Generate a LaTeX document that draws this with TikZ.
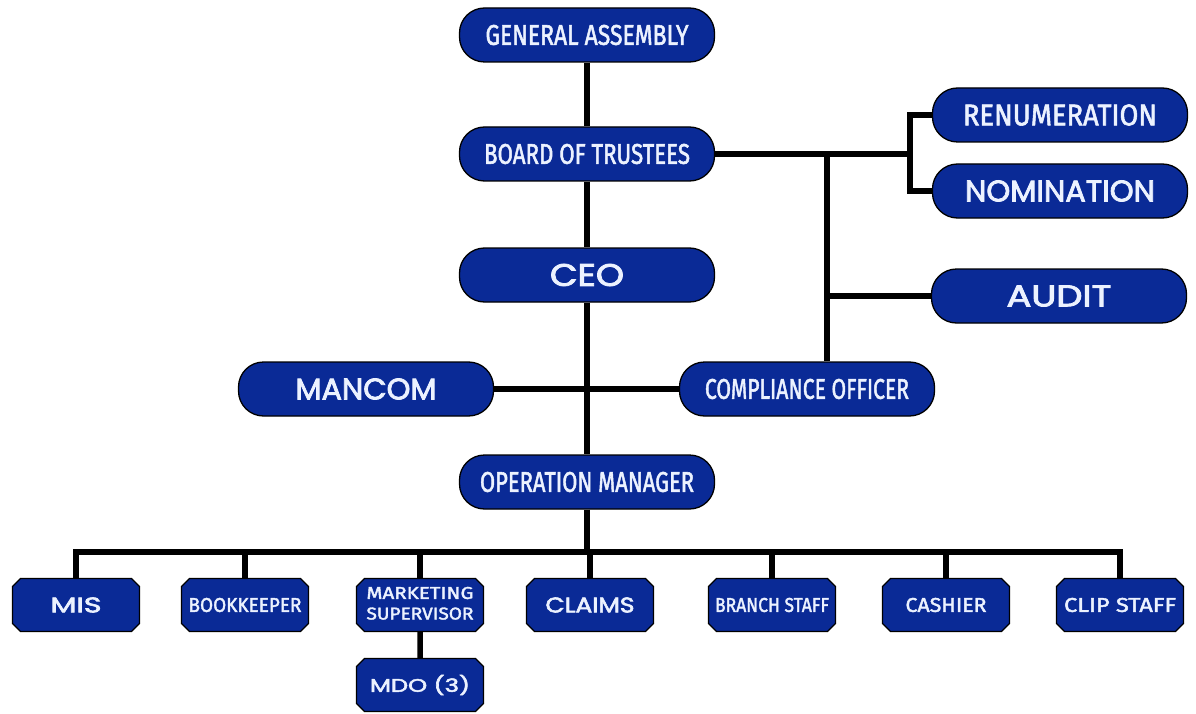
\documentclass[tikz,border=0pt]{standalone}
\usepackage{fontspec}
\usetikzlibrary{shapes.misc,backgrounds}
\newfontfamily\condfont{Fira Sans}[FakeBold=2]
\newfontfamily\widefont{Poppins}[FakeBold=2.6]
\definecolor{boxblue}{RGB}{10,42,150}
\definecolor{txtwhite}{RGB}{236,242,255}
\newcommand\ct[3]{\resizebox{#1pt}{#2pt}{\condfont #3}}
\newcommand\wt[3]{\resizebox{#1pt}{#2pt}{\widefont #3}}
\tikzset{
  bigbox/.style={draw=black, line width=1.3pt, fill=boxblue, rounded corners=25pt,
    minimum width=255pt, minimum height=54pt, inner sep=0pt, text=txtwhite},
  smallbox/.style={chamfered rectangle, chamfered rectangle xsep=4pt,
    chamfered rectangle ysep=4pt, draw=black, line width=1.3pt,
    fill=boxblue, minimum width=127pt, minimum height=53pt, inner sep=0pt, text=txtwhite},
  conn/.style={line width=5.5pt, draw=black}
}
\begin{document}
\begin{tikzpicture}[x=1pt,y=-1pt]
\useasboundingbox (0,0) rectangle (1196,714);
\coordinate (bus) at (0,552);
\coordinate (jbr) at (910,154);
\coordinate (jco) at (827,154);

\node[bigbox] (ga)  at (587,35)  {\ct{203}{20}{GENERAL ASSEMBLY}};
\node[bigbox] (bot) at (587,154) {\ct{206}{20}{BOARD OF TRUSTEES}};
\node[bigbox] (ceo) at (587,275) {\wt{74}{22}{CEO}};
\node[bigbox] (man) at (366,389) {\wt{141}{21}{MANCOM}};
\node[bigbox] (co)  at (807,389) {\ct{204}{20}{COMPLIANCE OFFICER}};
\node[bigbox] (om)  at (587,482) {\ct{214}{20}{OPERATION MANAGER}};
\node[bigbox] (ren) at (1060,115) {\ct{194}{21}{RENUMERATION}};
\node[bigbox] (nom) at (1060,191) {\wt{190}{21}{NOMINATION}};
\node[bigbox] (aud) at (1059,296) {\wt{105}{21}{AUDIT}};

\node[smallbox] (mis)  at (76,605)  {\wt{51}{15}{MIS}};
\node[smallbox] (book) at (245,605) {\ct{113}{14}{BOOKKEEPER}};
\node[smallbox] (mkt)  at (420,605) {\begin{tabular}{@{}c@{}}\ct{107}{12}{MARKETING}\\[5pt]\ct{107}{12}{SUPERVISOR}\end{tabular}};
\node[smallbox] (clm)  at (590,605) {\wt{89}{15}{CLAIMS}};
\node[smallbox] (brs)  at (772,605) {\ct{114}{14}{BRANCH STAFF}};
\node[smallbox] (cash) at (946,605) {\ct{81}{14}{CASHIER}};
\node[smallbox] (clip) at (1120,605) {\ct{112}{14}{CLIP STAFF}};
\node[smallbox] (mdo)  at (420,685) {\wt{100}{17}{MDO (3)}};

\begin{scope}[on background layer]
\draw[conn] (ga) -- (bot);
\draw[conn] (bot) -- (ceo);
\draw[conn] (ceo) -- (om);
\draw[conn] (man.east) -- (co.west);
\draw[conn] (bot.east) -- (jbr);
\draw[conn] (ren.west) -| (jbr) |- (nom.west);
\draw[conn] (jco) -- (jco |- co.north);
\draw[conn] (aud.west) -- (aud.west -| jco);
\draw[conn] (om.south) -- (om.south |- bus);
\draw[conn] (mis.north) -- (mis.north |- bus) -- (clip.north |- bus) -- (clip.north);
\draw[conn] (book.north) -- (book.north |- bus);
\draw[conn] (mkt.north) -- (mkt.north |- bus);
\draw[conn] (clm.north) -- (clm.north |- bus);
\draw[conn] (brs.north) -- (brs.north |- bus);
\draw[conn] (cash.north) -- (cash.north |- bus);
\draw[conn] (mkt) -- (mdo);
\end{scope}
\end{tikzpicture}
\end{document}
